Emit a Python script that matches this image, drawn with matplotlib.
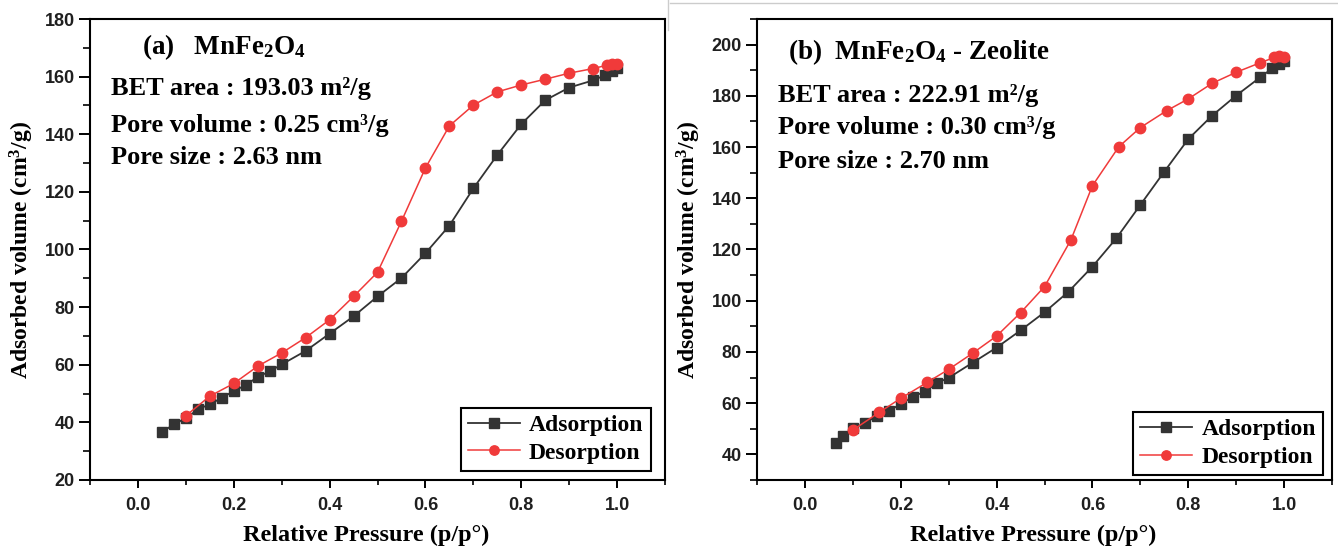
"""BET isotherms for MnFe2O4 and MnFe2O4-Zeolite."""

import matplotlib
matplotlib.use("Agg")
import matplotlib.pyplot as plt
from matplotlib.lines import Line2D
from matplotlib.ticker import MultipleLocator

plt.rcParams['mathtext.fontset'] = 'custom'
plt.rcParams['mathtext.rm'] = 'Liberation Serif:bold'
plt.rcParams['mathtext.default'] = 'rm'

# (a) MnFe2O4
a_ads_x = [0.05, 0.075, 0.1, 0.125, 0.15, 0.175, 0.2, 0.225, 0.25, 0.275, 0.3, 0.35, 0.4,
           0.45, 0.5, 0.55, 0.6, 0.65, 0.7, 0.75, 0.8, 0.85, 0.9, 0.95, 0.975, 0.99, 1.0]
a_ads_y = [36.5, 39.4, 41.4, 44.5, 46.3, 48.5, 50.9, 52.9, 55.8, 57.7, 60.1, 64.8, 70.8,
           76.8, 83.7, 90.1, 98.7, 108.3, 121.2, 132.8, 143.5, 151.8, 156.2, 158.7, 160.5, 161.8, 163.0]
a_des_x = [0.1, 0.15, 0.2, 0.25, 0.3, 0.35, 0.4, 0.45, 0.5, 0.55, 0.6, 0.65, 0.7, 0.75,
           0.8, 0.85, 0.9, 0.95, 0.98, 0.99, 1.0]
a_des_y = [42.3, 49.1, 53.5, 59.5, 64.1, 69.4, 75.6, 83.7, 92.1, 109.8, 128.3, 142.9, 150.1, 154.7,
           157.1, 159.1, 161.2, 162.8, 164.0, 164.3, 164.5]

# (b) MnFe2O4 - Zeolite
b_ads_x = [0.065, 0.08, 0.1, 0.125, 0.15, 0.175, 0.2, 0.225, 0.25, 0.275, 0.3, 0.35, 0.4,
           0.45, 0.5, 0.55, 0.6, 0.65, 0.7, 0.75, 0.8, 0.85, 0.9, 0.95, 0.975, 0.99, 1.0]
b_ads_y = [44.6, 47.3, 50.2, 52.1, 55.1, 56.9, 59.7, 62.5, 64.5, 67.8, 69.9, 75.8, 81.7,
           88.4, 95.5, 103.5, 113.3, 124.4, 137.4, 150.4, 163.1, 172.3, 180.1, 187.2, 190.7, 192.3, 193.5]
b_des_x = [0.1, 0.155, 0.2, 0.255, 0.3, 0.35, 0.4, 0.45, 0.5, 0.555, 0.6, 0.655, 0.7, 0.755,
           0.8, 0.85, 0.9, 0.95, 0.98, 0.99, 1.0]
b_des_y = [49.5, 56.4, 61.9, 68.1, 73.2, 79.5, 86.2, 95.3, 105.5, 123.7, 144.9, 160.1, 167.6, 174.2,
           178.8, 184.9, 189.2, 192.9, 195.0, 195.4, 195.3]

titles = ["(a)   MnFe$_2$O$_4$", "(b)  MnFe$_2$O$_4$ - Zeolite"]
infos = [["BET area : 193.03 m²/g", "Pore volume : 0.25 cm³/g", "Pore size : 2.63 nm"],
         ["BET area : 222.91 m²/g", "Pore volume : 0.30 cm³/g", "Pore size : 2.70 nm"]]

SERIF = 'Liberation Serif'
SANS = 'Liberation Sans'
BLACK = '#333333'
RED = '#f03a3a'

fig = plt.figure(figsize=(13.38, 5.54), dpi=100)
axes = [fig.add_axes([0.0673, 0.1336, 0.4297, 0.8321]),
        fig.add_axes([0.5658, 0.1336, 0.4297, 0.8321])]

panels = [(a_ads_x, a_ads_y, a_des_x, a_des_y, (20, 180)),
          (b_ads_x, b_ads_y, b_des_x, b_des_y, (30, 210))]

for i, (ax, (ax_x, ax_y, dx, dy, ylim)) in enumerate(zip(axes, panels)):
    ax.plot(ax_x, ax_y, color=BLACK, marker='s', ms=7.5, lw=1.3, label='Adsorption')
    ax.plot(dx, dy, color=RED, marker='o', ms=7.5, lw=1.1, label='Desorption')

    ax.set_xlim(-0.1, 1.1)
    ax.set_ylim(*ylim)
    ax.xaxis.set_major_locator(MultipleLocator(0.2))
    ax.xaxis.set_minor_locator(MultipleLocator(0.1))
    ax.yaxis.set_major_locator(MultipleLocator(20))
    ax.yaxis.set_minor_locator(MultipleLocator(10))
    ax.tick_params(axis='y', which='major', direction='out', length=8, width=1.4, pad=3)
    ax.tick_params(axis='y', which='minor', direction='out', length=5, width=1.2)
    ax.tick_params(axis='x', which='major', direction='out', length=6, width=1.4, pad=6)
    ax.tick_params(axis='x', which='minor', direction='out', length=3.5, width=1.2)
    for lbl in ax.get_yticklabels():
        lbl.set_fontfamily(SANS)
        lbl.set_fontweight('bold')
        lbl.set_fontsize(13)
        lbl.set_color('#1f1f1f')
    ax.set_xticks([0.0, 0.2, 0.4, 0.6, 0.8, 1.0])
    ax.set_xticklabels(['0.0', '0.2', '0.4', '0.6', '0.8', '1.0'],
                       fontfamily=SANS, fontweight='bold', fontsize=13, color='#1f1f1f')
    for s in ax.spines.values():
        s.set_linewidth(1.5)

    ax.set_xlabel('Relative Pressure (p/p°)', fontfamily=SERIF, fontweight='bold', fontsize=17.5)
    ax.set_ylabel('Adsorbed volume (cm$^3$/g)', fontfamily=SERIF, fontweight='bold', fontsize=17)
    ax.xaxis.set_label_coords(0.48, -0.098)
    ax.yaxis.set_label_coords(-0.094, 0.5)

    tx = 0.09 if i == 0 else 0.054
    ty = 0.94 if i == 0 else 0.928
    ax.text(tx, ty, titles[i], transform=ax.transAxes, fontfamily=SERIF,
            fontweight='bold', fontsize=19.5, va='center')
    iy = [0.85, 0.77, 0.70] if i == 0 else [0.835, 0.764, 0.69]
    for line, yy in zip(infos[i], iy):
        ax.text(0.037, yy, line, transform=ax.transAxes, fontfamily=SERIF,
                fontweight='bold', fontsize=19, va='center')

    anchor = (0.975, 0.02) if i == 0 else (0.985, 0.011)
    leg = ax.legend(loc='lower right', bbox_to_anchor=anchor, borderaxespad=0,
                    fancybox=False, edgecolor='black', framealpha=1,
                    prop={'family': SERIF, 'weight': 'bold', 'size': 17},
                    handlelength=2.2, handletextpad=0.4, labelspacing=0.25,
                    borderpad=0.3, markerscale=0.9)
    leg.get_frame().set_linewidth(1.5)

# screenshot seam lines
fig.add_artist(Line2D([670 / 1338, 1.0], [1 - 3 / 554, 1 - 3 / 554], color='#cccccc', lw=1))
fig.add_artist(Line2D([668 / 1338, 668 / 1338], [1.0, 1 - 30 / 554], color='#cccccc', lw=1))

plt.savefig('out.png', dpi=100)
plt.close()
